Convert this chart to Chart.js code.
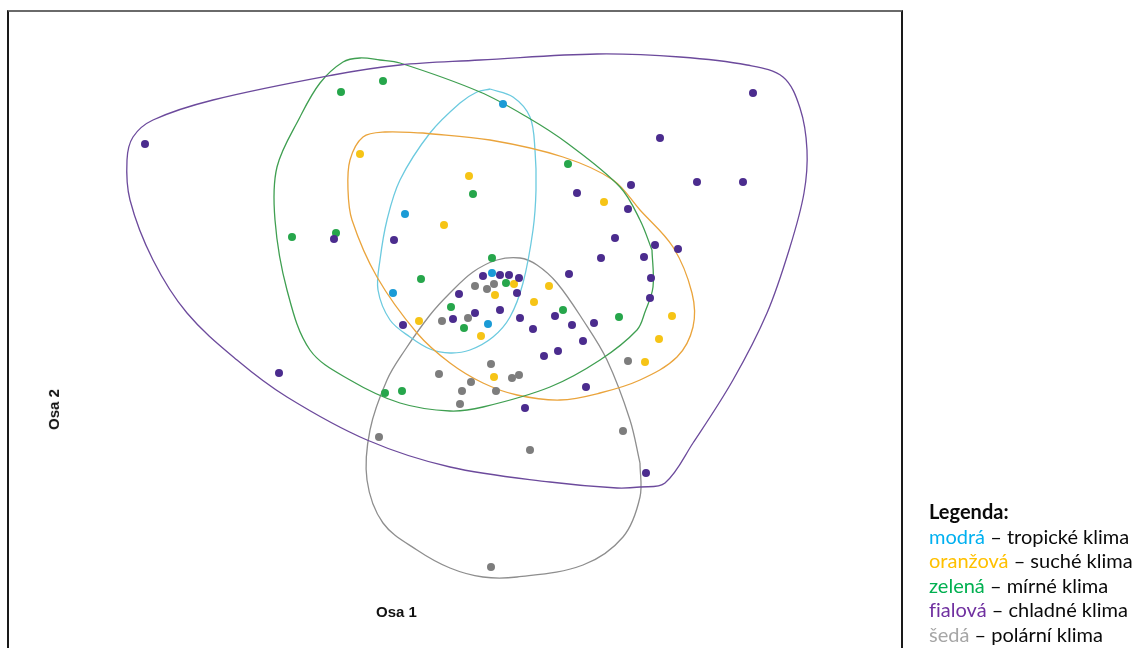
<!DOCTYPE html>
<html lang="cs">
<head>
<meta charset="utf-8">
<title>Ordinace – klimatické typy</title>
<script src="https://cdn.jsdelivr.net/npm/chart.js@4.4.1/dist/chart.umd.min.js"></script>
<style>
  html, body { margin: 0; padding: 0; background: #fff; }
  #wrap { position: relative; width: 1134px; height: 648px; overflow: hidden; }
  #frame {
    position: absolute; left: 7px; top: 10px; width: 892px; height: 700px;
    border-left: 2px solid #1a1a1a; border-top: 2px solid #6a6a6a; border-right: 2px solid #1a1a1a;
  }
  /* the canvas is 4px larger on each side: Chart.js keeps a 4px margin for the point radius */
  #c { position: absolute; left: -4px; top: -4px; }
  .axis { position: absolute; font-family: "Liberation Sans", Arial, sans-serif; font-weight: bold;
          font-size: 15px; color: #111; white-space: nowrap; }
  #osa1 { left: 376px; top: 603px; }
  #osa2 { left: 33px; top: 401px; transform: rotate(-90deg); transform-origin: 50% 50%; }
  #legend { position: absolute; left: 929px; top: 499px; font-family: Lato, "Open Sans", sans-serif;
            font-size: 20px; line-height: 24.5px; color: #0a0a0a; white-space: nowrap;
            font-variant-ligatures: none; }
  #legend b { font-weight: bold; }
</style>
</head>
<body>
<div id="wrap">
  <div id="frame"></div>
  <canvas id="c" width="1142" height="656"></canvas>
  <div class="axis" id="osa1">Osa 1</div>
  <div class="axis" id="osa2">Osa 2</div>
  <div id="legend">
    <b>Legenda:</b><br>
    <span style="color:#00b0f0">modrá</span> – tropické klima<br>
    <span style="color:#ffc000">oranžová</span> – suché klima<br>
    <span style="color:#00b050">zelená</span> – mírné klima<br>
    <span style="color:#7030a0">fialová</span> – chladné klima<br>
    <span style="color:#a6a6a6">šedá</span> – polární klima
  </div>
</div>
<script>
// Ordination scores (Osa 1, Osa 2) of the sites, grouped by climate type
const tropicke = [[0.53,2.26],[-0.45,1.16],[-0.57,0.37],[0.42,0.57],[0.38,0.06]];
const sucha = [[-0.90,1.76],[0.19,1.54],[1.54,1.28],[-0.06,1.05],[0.64,0.46],[0.45,0.35],[0.99,0.44],
  [0.84,0.28],[-0.31,0.09],[0.31,-0.06],[0.44,-0.47],[2.22,0.14],[2.09,-0.09],[1.95,-0.32]];
const mirne = [[-1.09,2.38],[-0.67,2.49],[1.18,1.66],[0.23,1.36],[-1.58,0.93],[-1.14,0.97],[0.42,0.72],
  [-0.29,0.51],[0.56,0.47],[0.01,0.23],[0.14,0.02],[1.13,0.20],[1.69,0.13],[-0.65,-0.63],[-0.48,-0.61]];
const chladne = [[-3.05,1.86],[3.03,2.37],[2.10,1.92],[1.27,1.37],[1.81,1.45],[2.47,1.48],[2.93,1.48],
  [1.78,1.21],[-1.16,0.91],[-0.56,0.90],[1.65,0.92],[2.05,0.85],[2.28,0.81],[1.51,0.72],[1.94,0.73],
  [1.19,0.56],[2.01,0.52],[2.00,0.32],[0.33,0.54],[0.50,0.55],[0.59,0.55],[0.69,0.52],[0.09,0.36],
  [0.67,0.37],[0.50,0.20],[0.25,0.17],[0.03,0.11],[0.70,0.12],[1.05,0.14],[0.83,0.01],[1.22,0.05],
  [1.44,0.07],[-0.47,0.05],[1.33,-0.11],[1.08,-0.21],[0.94,-0.26],[-1.71,-0.43],[1.36,-0.57],
  [0.75,-0.78],[1.96,-1.43]];
const polarni = [[0.25,0.44],[0.37,0.41],[0.44,0.46],[-0.08,0.09],[0.18,0.12],[0.41,-0.34],[-0.11,-0.44],
  [0.62,-0.48],[0.69,-0.45],[0.21,-0.52],[0.12,-0.61],[0.46,-0.61],[0.10,-0.74],[1.78,-0.31],
  [-0.71,-1.07],[1.73,-1.01],[0.80,-1.20],[0.41,-2.37]];

// Envelope outlines around each group (closed, smoothed)
const obalTropicke = [[0.40,2.41],[0.63,2.33],[0.80,2.13],[0.85,1.80],[0.86,1.40],[0.83,1.00],[0.73,0.47],
  [0.60,0.13],[0.43,-0.07],[0.20,-0.20],[0.00,-0.23],[-0.20,-0.19],[-0.40,-0.07],[-0.60,0.10],
  [-0.72,0.40],[-0.70,0.70],[-0.63,1.10],[-0.50,1.50],[-0.20,1.97],[0.10,2.27],[0.27,2.38]];
const obalSucha = [[-0.27,1.97],[0.40,1.90],[1.13,1.73],[1.63,1.50],[1.90,1.20],[2.23,0.83],[2.42,0.37],
  [2.43,0.03],[2.27,-0.27],[1.90,-0.50],[1.50,-0.63],[1.10,-0.70],[0.67,-0.65],[0.33,-0.53],[0.00,-0.33],
  [-0.33,-0.03],[-0.73,0.53],[-0.98,1.10],[-1.02,1.40],[-1.00,1.70],[-0.87,1.93],[-0.65,1.98]];
const obalMirne = [[2.02,0.80],[2.03,0.43],[1.95,0.18],[1.87,0.00],[1.50,-0.30],[1.00,-0.57],[0.33,-0.77],
  [0.00,-0.81],[-0.50,-0.73],[-1.00,-0.50],[-1.40,-0.20],[-1.63,0.40],[-1.75,1.10],[-1.73,1.63],
  [-1.50,2.13],[-1.30,2.47],[-1.07,2.68],[-0.90,2.72],[-0.70,2.70],[-0.50,2.67],[0.30,2.38],[0.77,2.13],
  [1.17,1.87],[1.70,1.43],[1.90,1.10]];
const obalChladne = [[0.30,2.70],[1.47,2.76],[2.30,2.73],[2.97,2.65],[3.33,2.53],[3.50,2.22],[3.57,1.80],
  [3.54,1.37],[3.40,0.83],[3.17,0.17],[2.83,-0.50],[2.43,-1.13],[2.15,-1.53],[1.90,-1.57],[1.67,-1.58],
  [1.00,-1.52],[0.00,-1.37],[-0.83,-1.10],[-1.63,-0.67],[-2.13,-0.30],[-2.63,0.17],[-2.97,0.70],
  [-3.20,1.30],[-3.23,1.70],[-3.17,1.93],[-2.97,2.10],[-2.37,2.30],[-1.17,2.55],[-0.50,2.65]];
const obalPolarni = [[1.90,-1.33],[1.90,-1.67],[1.73,-2.07],[1.33,-2.35],[0.67,-2.47],[0.33,-2.47],
  [0.00,-2.38],[-0.33,-2.20],[-0.67,-1.93],[-0.83,-1.50],[-0.80,-1.00],[-0.63,-0.50],[-0.45,-0.20],
  [-0.20,0.15],[0.00,0.37],[0.23,0.58],[0.47,0.70],[0.70,0.72],[0.87,0.65],[1.07,0.47],[1.33,0.10],
  [1.57,-0.30],[1.80,-0.90]];

const toXY = arr => arr.map(([x, y]) => ({ x, y }));
const closed = arr => toXY(arr.concat([arr[0]]));

function pointSet(label, data, color) {
  return { label, data: toXY(data), backgroundColor: color, borderWidth: 0,
           pointRadius: 4, pointHoverRadius: 4, showLine: false, order: 0 };
}
function hullSet(label, data, color) {
  return { label, data: closed(data), borderColor: color, borderWidth: 1.3, pointRadius: 0,
           showLine: true, fill: false, tension: 0.35, order: 1 };
}

new Chart(document.getElementById('c'), {
  type: 'scatter',
  data: {
    datasets: [
      pointSet('polární', polarni, '#7d7d7d'),
      pointSet('chladné', chladne, '#4b2c8e'),
      pointSet('mírné', mirne, '#26a64b'),
      pointSet('suché', sucha, '#f6c416'),
      pointSet('tropické', tropicke, '#1b9bd6'),
      hullSet('obal chladné', obalChladne, '#6c4a9c'),
      hullSet('obal mírné', obalMirne, '#3f9f51'),
      hullSet('obal suché', obalSucha, '#eaa43c'),
      hullSet('obal tropické', obalTropicke, '#6ccadf'),
      hullSet('obal polární', obalPolarni, '#8e8e8e')
    ]
  },
  options: {
    responsive: false,
    devicePixelRatio: 1,
    animation: false,
    layout: { padding: 0 },
    plugins: { legend: { display: false }, tooltip: { enabled: false } },
    scales: {
      x: { type: 'linear', min: -4.5, max: 6.84, display: false },
      y: { type: 'linear', min: -3.18, max: 3.30, display: false }
    }
  }
});
</script>
</body>
</html>
